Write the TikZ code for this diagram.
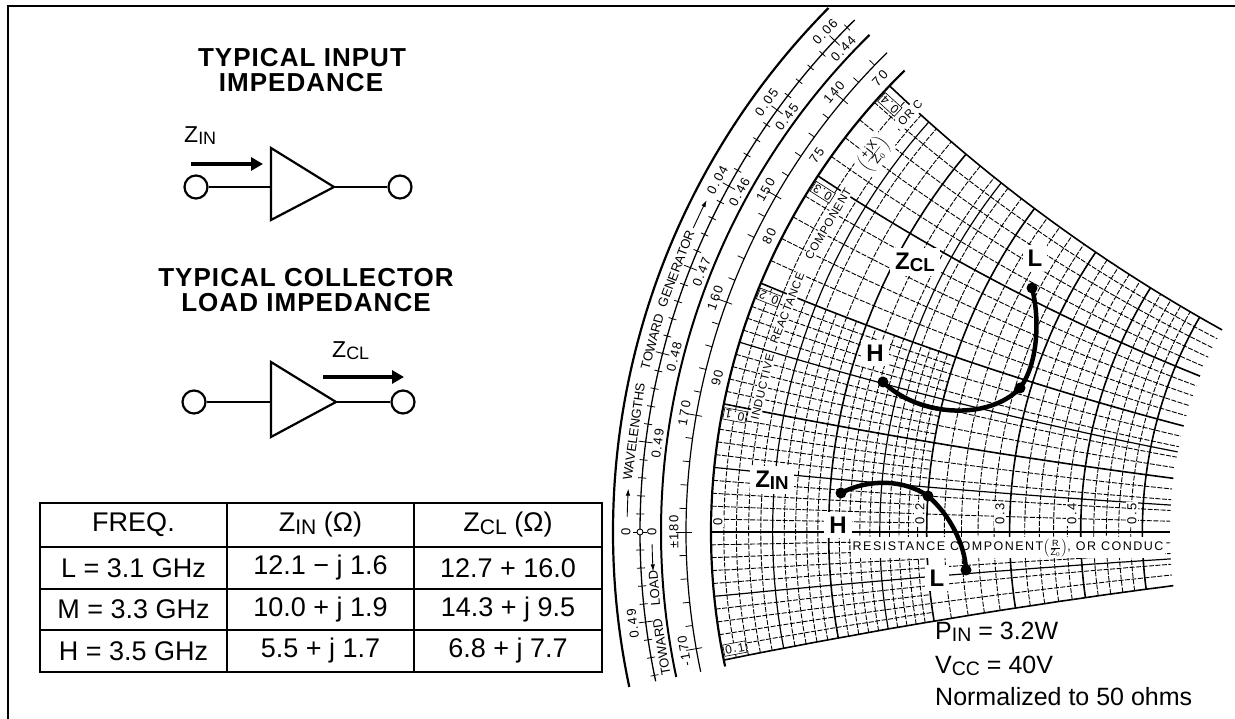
\documentclass[tikz,border=0pt]{standalone}
\usepackage{fontspec}
\usepackage{graphicx}
\setmainfont{Liberation Sans}
\newfontfamily\ttlfont[LetterSpace=4]{Liberation Sans}
\newfontfamily\chfont[LetterSpace=12]{Liberation Sans}
\newfontfamily\ctfont[LetterSpace=6]{Liberation Sans}
\usetikzlibrary{arrows.meta}
\newcommand\fsz[1]{\fontsize{#1}{#1}\selectfont}
\newcommand\sbx[1]{\raisebox{-0.08em}{\scalebox{0.78}{#1}}}
\newcommand\rline[3]{\draw[#1] plot[domain=-0.1:#3,samples=36,variable=\t] ({gx(#2,\t)},{gy(#2,\t)});}
\newcommand\xline[3]{\draw[#1] plot[domain=0:#3,samples=30,variable=\t] ({gx(\t,#2)},{gy(\t,#2)});}
\begin{document}
\begin{tikzpicture}[x=1pt,y=1pt,
  declare function={gd(\a,\b)=(\a+1)*(\a+1)+\b*\b;
    gx(\a,\b)=1358+647*(\a*\a+\b*\b-1)/gd(\a,\b);
    gy(\a,\b)=187+1294*\b/gd(\a,\b);},
  bframe/.style={line width=2.4pt},
  ampl/.style={line width=2.2pt, line join=miter},
  tcirc/.style={circle, draw, line width=2.2pt, minimum size=23pt, inner sep=0pt},
  bigarrow/.style={line width=4pt, -{Triangle[length=12pt,width=13pt]}},
  gmin/.style={line width=0.9pt, dash pattern=on 5pt off 1.5pt},
  gmid/.style={line width=1.2pt},
  gmaj/.style={line width=1.6pt},
  rng/.style={line width=2.2pt},
  tk/.style={line width=0.8pt},
  sc/.style={font=\chfont\fsz{13}, inner sep=0.5pt},
  wl/.style={font=\fsz{13}, inner sep=0.5pt},
  rlab/.style={font=\chfont\fsz{13}, inner sep=1pt, fill=white},
  xlab/.style={font=\chfont\fsz{12}, inner sep=1.5pt, fill=white, draw, line width=0.6pt},
  ctext/.style={font=\ctfont\fsz{11.5}, inner sep=1.5pt, fill=white},
  rtext/.style={font=\chfont\fsz{12.5}, inner sep=1.5pt, fill=white},
  lbl/.style={font=\bfseries\fsz{24}, fill=white, inner sep=5pt},
  zdot/.style={circle, fill, inner sep=0pt, minimum size=11pt},
  zcurve/.style={line width=4.5pt, line cap=round},
  tcell/.style={font=\fsz{27}},
  ttl/.style={font=\ttlfont\bfseries\fsz{26}, anchor=base},
]
\useasboundingbox (0,0) rectangle (1235,719);
\fill[white] (0,0) rectangle (1235,719);
\coordinate (C) at (1358,187);

% frame
\coordinate (fb) at (8,0); \coordinate (fc) at (8,713); \coordinate (fr) at (1235,713);
\draw[bframe] (fb) -- (fc) -- (fr);

% ---------- left panel ----------
\node[ttl] (t1) at (302,652) {TYPICAL INPUT};
\node[ttl] (t2) at (301,627) {IMPEDANCE};
\node[ttl] (t3) at (306,432) {TYPICAL COLLECTOR};
\node[ttl] (t4) at (306,407) {LOAD IMPEDANCE};

% amplifier 1
\node[tcirc] (i1) at (196,532) {};
\node[tcirc] (o1) at (400,532) {};
\coordinate (a1t) at (271,571); \coordinate (a1b) at (271,499);
\coordinate (a1p) at (334,532); \coordinate (a1in) at (271,532);
\draw[ampl] (a1t) -- (a1b) -- (a1p) -- cycle;
\draw[ampl] (i1) -- (a1in);
\draw[ampl] (a1p) -- (o1);
\coordinate (ar1s) at (191,555); \coordinate (ar1e) at (263,555);
\draw[bigarrow] (ar1s) -- (ar1e);
\node[anchor=base west, font=\fsz{23}, inner sep=0pt] (zinl) at (184,576) {Z\sbx{IN}};

% amplifier 2
\node[tcirc] (i2) at (194,317) {};
\node[tcirc] (o2) at (403,317) {};
\coordinate (a2t) at (271,357); \coordinate (a2b) at (271,282);
\coordinate (a2p) at (336,317); \coordinate (a2in) at (271,317);
\draw[ampl] (a2t) -- (a2b) -- (a2p) -- cycle;
\draw[ampl] (i2) -- (a2in);
\draw[ampl] (a2p) -- (o2);
\coordinate (ar2s) at (323,342); \coordinate (ar2e) at (404,342);
\draw[bigarrow] (ar2s) -- (ar2e);
\node[anchor=base west, font=\fsz{23}, inner sep=0pt] (zcll) at (332,361) {Z\sbx{CL}};

% table
\draw[line width=1.4pt] (40,47) rectangle (602,216);
\draw[line width=1.4pt] (40,172) -- (602,172) (40,130) -- (602,130) (40,89) -- (602,89)
  (227,47) -- (227,216) (414,47) -- (414,216);
\node[tcell] (h1) at (133.5,194) {FREQ.};
\node[tcell] (h2) at (320.5,194) {Z\sbx{IN} (Ω)};
\node[tcell] (h3) at (508,194) {Z\sbx{CL} (Ω)};
\node[tcell] (c11) at (133.5,151) {L = 3.1 GHz};
\node[tcell] (c12) at (320.5,151) {12.1 − j 1.6};
\node[tcell] (c13) at (508,151) {12.7 + 16.0};
\node[tcell] (c21) at (133.5,109.5) {M = 3.3 GHz};
\node[tcell] (c22) at (320.5,109.5) {10.0 + j 1.9};
\node[tcell] (c23) at (508,109.5) {14.3 + j 9.5};
\node[tcell] (c31) at (133.5,68) {H = 3.5 GHz};
\node[tcell] (c32) at (320.5,68) {5.5 + j 1.7};
\node[tcell] (c33) at (508,68) {6.8 + j 7.7};

% ---------- Smith chart grid ----------
\foreach \i in {1,...,19}{%
  \pgfmathsetmacro\rr{\i/100}%
  \ifnum\i=10 \rline{gmaj}{\rr}{0.4}\else
  \ifnum\i=5 \rline{gmid}{\rr}{0.4}\else
  \ifnum\i=15 \rline{gmid}{\rr}{0.4}\else
  \ifodd\i \rline{gmin}{\rr}{0.2}\else \rline{gmin}{\rr}{0.4}\fi\fi\fi\fi
}
\foreach \i in {20,22,...,50}{%
  \pgfmathsetmacro\rr{\i/100}%
  \pgfmathtruncatemacro\mm{mod(\i,10)}%
  \ifnum\mm=0 \rline{gmaj}{\rr}{0.4}\else \rline{gmin}{\rr}{0.4}\fi
}
\foreach \i in {-10,...,20}{%
  \pgfmathsetmacro\xx{\i/100}%
  \pgfmathtruncatemacro\mt{mod(abs(\i),10)}%
  \pgfmathtruncatemacro\mf{mod(abs(\i),5)}%
  \ifnum\i=0 \xline{line width=1.8pt}{\xx}{0.55}\else
  \ifnum\mt=0 \xline{gmaj}{\xx}{0.55}\else
  \ifnum\mf=0 \xline{gmid}{\xx}{0.55}\else
  \ifodd\i \xline{gmin}{\xx}{0.2}\else \xline{gmin}{\xx}{0.55}\fi\fi\fi\fi
}
\foreach \i in {22,24,...,40}{%
  \pgfmathsetmacro\xx{\i/100}%
  \pgfmathtruncatemacro\mt{mod(\i,10)}%
  \ifnum\mt=0 \xline{gmaj}{\xx}{0.55}\else \xline{gmin}{\xx}{0.55}\fi
}

% ---------- outer rings ----------
\draw[rng] ([shift={(C)}]135.3:745) arc[start angle=135.3, end angle=192, radius=745];
\draw[line width=1.3pt] ([shift={(C)}]134.5:718) arc[start angle=134.5, end angle=192, radius=718];
\draw[line width=2pt] ([shift={(C)}]134.5:697) arc[start angle=134.5, end angle=192, radius=697];
\draw[line width=1.2pt] ([shift={(C)}]134.5:672) arc[start angle=134.5, end angle=192, radius=672];
\draw[rng] ([shift={(C)}]134.5:647) arc[start angle=134.5, end angle=192, radius=647];

\foreach \k in {-8,...,31}{%
  \pgfmathsetmacro\th{180-1.44*\k}%
  \pgfmathtruncatemacro\mk{mod(abs(\k),5)}%
  \ifnum\mk=0
    \draw[tk] ([shift={(C)}]\th:711) -- ([shift={(C)}]\th:725);
  \else
    \draw[tk] ([shift={(C)}]\th:714) -- ([shift={(C)}]\th:722);
  \fi
}
\foreach \a in {136,138,...,190}{%
  \pgfmathtruncatemacro\ma{mod(\a,10)}%
  \ifnum\ma=0
    \draw[tk] ([shift={(C)}]\a:666) -- ([shift={(C)}]\a:682);
  \else
    \draw[tk] ([shift={(C)}]\a:672) -- ([shift={(C)}]\a:679);
  \fi
}

% scale labels
\foreach \t/\a/\r in {0.04/151.2/731, 0.05/144/731, 0.06/136.8/731, 0.49/187.2/731,
   0.49/172.8/706, 0.48/165.6/706, 0.47/158.4/706, 0.46/151.2/706, 0.45/144/706, 0.44/136.8/706,
   ±180/180/684, 170/170/684, 160/160/684, 150/150/684, 140/140/684, -170/190/684,
   90/166.5/659, 80/153.3/659, 75/145.2/659, 70/136.5/659}{%
  \node[sc, rotate=\a-90] at ([shift={(C)}]\a:\r) {\t};
}
\foreach \t/\a in {WAVELENGTHS/172.1, TOWARD/164.9, GENERATOR/158.9}{%
  \node[wl] at ([shift={(C)}]\a:731) [rotate=\a-90] {\t};
}
\foreach \t/\a in {LOAD/184.6, TOWARD/189.4}{%
  \node[wl] at ([shift={(C)}]\a:706) [rotate=\a-90] {\t};
}
\draw[line width=0.9pt, -{Latex[length=7pt,width=4.5pt]}] ([shift={(C)}]178.8:731) arc[start angle=178.8, end angle=176.6, radius=731];
\draw[line width=0.9pt, -{Latex[length=7pt,width=4.5pt]}] ([shift={(C)}]155.4:731) arc[start angle=155.4, end angle=153.0, radius=731];
\draw[line width=0.9pt, -{Latex[length=7pt,width=4.5pt]}] ([shift={(C)}]181.0:706) arc[start angle=181.0, end angle=183.2, radius=706];
\node[sc] (g0) at ([shift={(C)}]180:732) [rotate=90] {0};
\node[sc] (l0) at ([shift={(C)}]180:706) [rotate=90] {0};
\draw[line width=0.9pt, fill=white] ([shift={(C)}]180:718) circle (3);

% reactance labels on boundary
\foreach \t/\a in {0.1/169.4, 0.2/158.3, 0.3/147.6, 0.4/137.6}{%
  \node[xlab, rotate=\a] at ([shift={(C)}]\a:634) {\t};
}
\node[xlab, rotate=10.7] (xm1) at ([shift={(C)}]190.6:634) {0.1};

% resistance labels
\node[rlab, rotate=90] (r0) at (718,197) {0};
\node[rlab, rotate=90] (r2) at (920,205) {0.2};
\node[rlab, rotate=90] (r3) at (1000,205) {0.3};
\node[rlab, rotate=90] (r4) at (1072,205) {0.4};
\node[rlab, rotate=90] (r5) at (1132,205) {0.5};
\node[rtext, anchor=west] (rc) at (851,171) {RESISTANCE COMPONENT$\left(\frac{\mbox{\fsz{9}R}}{\mbox{\fsz{9}Z$_0$}}\right)$, OR CONDUC};

% inductive reactance text
\foreach \t/\a in {INDUCTIVE/166.3, REACTANCE/158.6, COMPONENT/149.8, {, OR C}/137.2}{%
  \node[ctext] at ([shift={(C)}]\a:613) [rotate=\a-90] {\t};
}
\node[ctext, rotate=142.0-90] (frx) at ([shift={(C)}]142.0:614) {$\left(\frac{\mbox{\fsz{12}+jX}}{\mbox{\fsz{12}Z$_0$}}\right)$};

% impedance labels with white backgrounds
\node[lbl] (zcl) at (915,457) {Z\sbx{CL}};
\node[lbl] (lcl) at (1035,461) {L};
\node[lbl] (hcl) at (875,366) {H};
\node[lbl] (zin) at (772,239) {Z\sbx{IN}};
\node[lbl] (hin) at (838,194) {H};
\node[lbl] (lin) at (937,141) {L};

% curves
\coordinate (ZL) at (1032,431); \coordinate (ZM) at (1020,331); \coordinate (ZH) at (883,337);
\coordinate (IH) at (841,226); \coordinate (IM) at (928,223); \coordinate (IL) at (966,149);
\draw[zcurve] (ZL) .. controls (1040,400) and (1038,355) .. (ZM) .. controls (990,299) and (920,301) .. (ZH);
\draw[zcurve] (IH) .. controls (870,241) and (905,239) .. (IM) .. controls (950,204) and (965,174) .. (IL);
\foreach \p in {ZL,ZM,ZH,IH,IM,IL}{\node[zdot] at (\p) {};}

% conditions
\node[anchor=base west, font=\fsz{25}, inner sep=0pt] (pin) at (935,79) {P\sbx{IN} = 3.2W};
\node[anchor=base west, font=\fsz{25}, inner sep=0pt] (vcc) at (935,45) {V\sbx{CC} = 40V};
\node[anchor=base west, font=\fsz{25}, inner sep=0pt] (nrm) at (935,13) {Normalized to 50 ohms};
\end{tikzpicture}
\end{document}
